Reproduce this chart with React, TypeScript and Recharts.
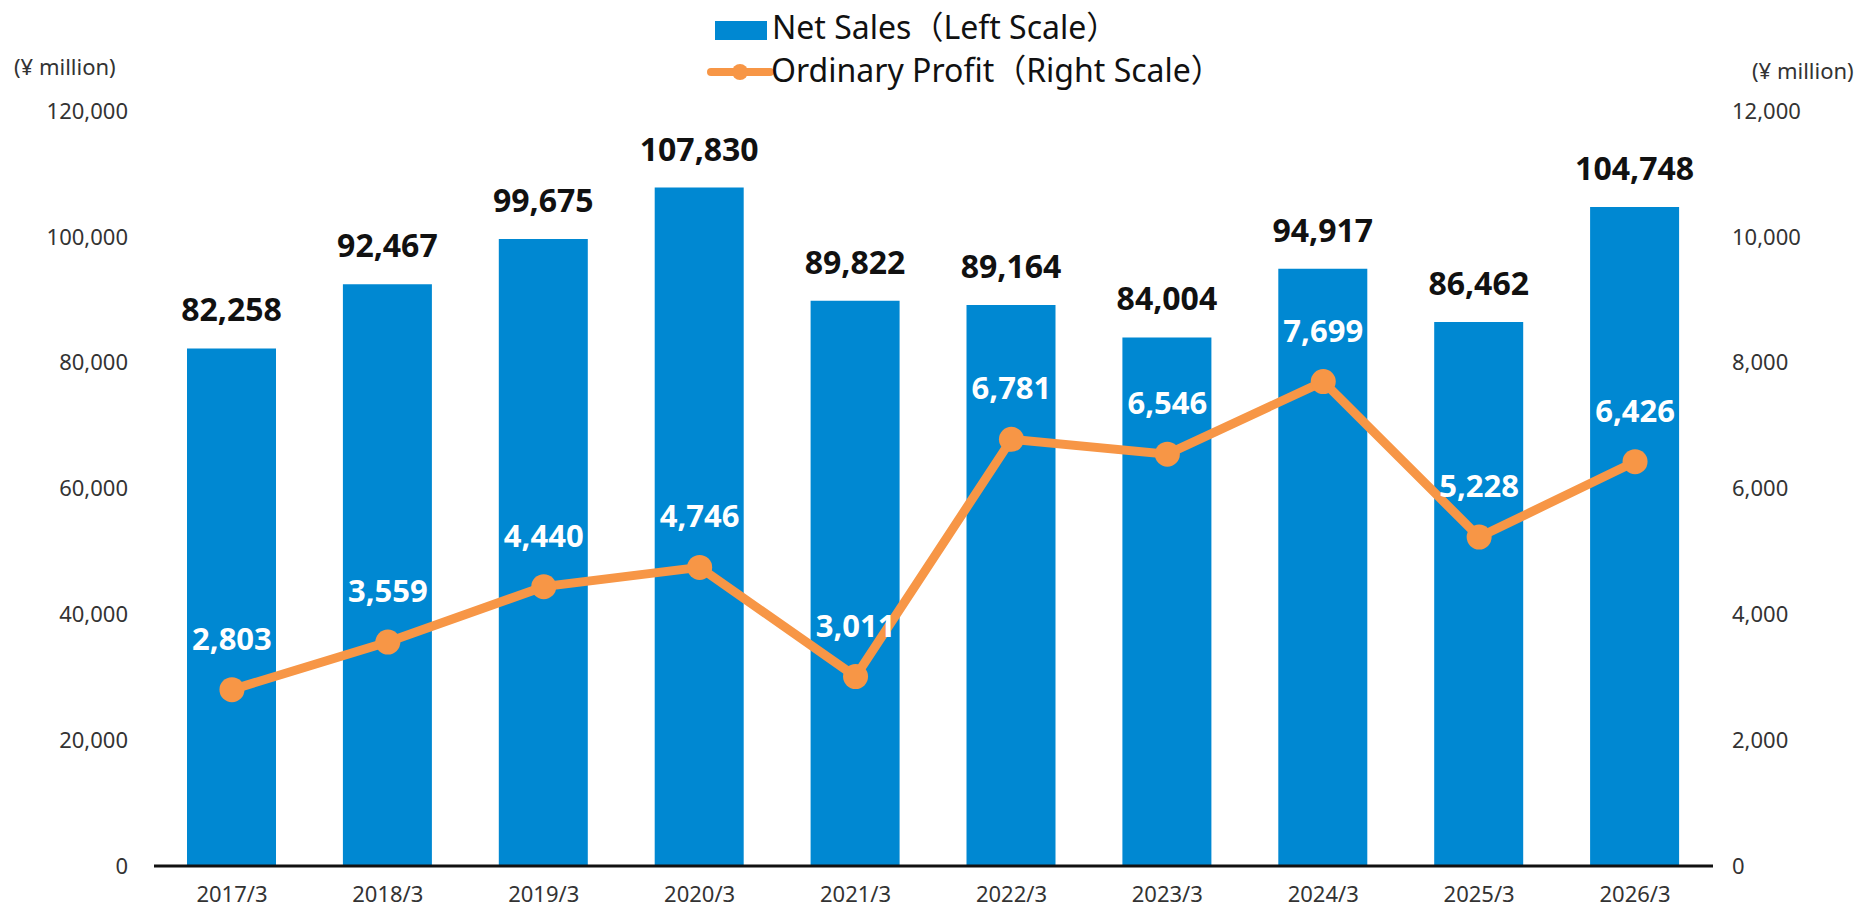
import { Bar, ComposedChart, LabelList, Line, XAxis, YAxis } from "recharts";

const years = ["2017/3", "2018/3", "2019/3", "2020/3", "2021/3", "2022/3", "2023/3", "2024/3", "2025/3", "2026/3"];
const netSales = [82258, 92467, 99675, 107830, 89822, 89164, 84004, 94917, 86462, 104748];
const ordinaryProfit = [2803, 3559, 4440, 4746, 3011, 6781, 6546, 7699, 5228, 6426];
const leftTicks = [0, 20000, 40000, 60000, 80000, 100000, 120000];
const rightTicks = [0, 2000, 4000, 6000, 8000, 10000, 12000];

const FONT = "'Noto Sans', 'Noto Sans CJK JP', sans-serif";
const BLUE = "#0088d2";
const ORANGE = "#f79646";

const data = years.map((year, i) => ({
    year,
    sales: netSales[i],
    profit: ordinaryProfit[i],
}));

const fmt = (v: number) => v.toLocaleString("en-US");

const tickStyle = { fontSize: 22, fill: "#333", fontFamily: FONT };

const App = () => {
    return (
        <div style={{ position: "absolute", left: 0, top: 0, width: 1854, height: 910, fontFamily: FONT }}>
            <ComposedChart
                width={1854}
                height={910}
                data={data}
                margin={{ top: 111, right: 0, bottom: 0, left: 0 }}
            >
                <XAxis
                    dataKey="year"
                    height={44}
                    tick={tickStyle}
                    tickLine={false}
                    tickSize={0}
                    tickMargin={20}
                    axisLine={{ stroke: "#111", strokeWidth: 3 }}
                />
                <YAxis
                    yAxisId="left"
                    width={154}
                    domain={[0, 120000]}
                    ticks={leftTicks}
                    tickFormatter={fmt}
                    tick={tickStyle}
                    axisLine={false}
                    tickLine={false}
                    tickSize={0}
                    tickMargin={26}
                />
                <YAxis
                    yAxisId="right"
                    orientation="right"
                    width={141}
                    domain={[0, 12000]}
                    ticks={rightTicks}
                    tickFormatter={fmt}
                    tick={tickStyle}
                    axisLine={false}
                    tickLine={false}
                    tickSize={0}
                    tickMargin={19}
                />
                <Bar yAxisId="left" dataKey="sales" fill={BLUE} barSize={89} isAnimationActive={false}>
                    <LabelList
                        dataKey="sales"
                        position="top"
                        offset={27}
                        formatter={(v: any) => fmt(Number(v))}
                        style={{ fontSize: 32, fontWeight: 700, fill: "#111", fontFamily: FONT }}
                    />
                </Bar>
                <Line
                    yAxisId="right"
                    dataKey="profit"
                    stroke={ORANGE}
                    strokeWidth={9}
                    dot={{ r: 12.5, fill: ORANGE, stroke: "none" }}
                    activeDot={false}
                    isAnimationActive={false}
                >
                    <LabelList
                        dataKey="profit"
                        position="top"
                        offset={40}
                        formatter={(v: any) => fmt(Number(v))}
                        style={{ fontSize: 31, fontWeight: 700, fill: "#fff", fontFamily: FONT }}
                    />
                </Line>
            </ComposedChart>

            {/* legend + unit captions */}
            <svg width={1854} height={100} style={{ position: "absolute", left: 0, top: 0 }}>
                <rect x={715} y={21} width={52} height={19} fill={BLUE} />
                <text x={772} y={27} dy="0.36em" fontSize={32} fill="#111" fontFamily={FONT}>
                    Net Sales（Left Scale）
                </text>
                <line x1={711} y1={72} x2={770} y2={72} stroke={ORANGE} strokeWidth={8} strokeLinecap="round" />
                <circle cx={740} cy={72} r={8} fill={ORANGE} />
                <text x={771} y={70} dy="0.36em" fontSize={32} fill="#111" fontFamily={FONT}>
                    Ordinary Profit（Right Scale）
                </text>
                <text x={14} y={67} dy="0.36em" fontSize={22} fill="#333" fontFamily={FONT}>
                    (¥ million)
                </text>
                <text x={1752} y={71} dy="0.36em" fontSize={22} fill="#333" fontFamily={FONT}>
                    (¥ million)
                </text>
            </svg>
        </div>
    );
};

export default App;
